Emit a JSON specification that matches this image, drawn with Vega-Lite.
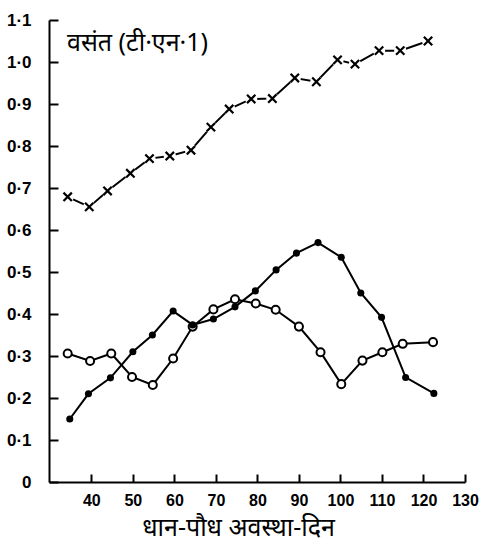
{
  "$schema": "https://vega.github.io/schema/vega-lite/v6.json",
  "width": 416,
  "height": 462,
  "autosize": "none",
  "padding": {"left": 49, "top": 20, "right": 29, "bottom": 65},
  "background": "white",
  "config": {"view": {"stroke": null}, "font": "Liberation Sans"},
  "title": {
    "text": "वसंत (टी·एन·1)",
    "anchor": "start",
    "frame": "group",
    "orient": "top",
    "baseline": "top",
    "offset": 0,
    "dx": 18,
    "dy": 45,
    "fontSize": 25,
    "fontWeight": "normal",
    "font": "Noto Sans",
    "color": "black"
  },
  "datasets": {
    "pts": [
      {"series": "x", "day": 34.3, "value": 0.679},
      {"series": "x", "day": 39.5, "value": 0.655},
      {"series": "x", "day": 43.9, "value": 0.693},
      {"series": "x", "day": 49.4, "value": 0.735},
      {"series": "x", "day": 54.0, "value": 0.77},
      {"series": "x", "day": 58.9, "value": 0.776},
      {"series": "x", "day": 64.0, "value": 0.79},
      {"series": "x", "day": 68.8, "value": 0.845},
      {"series": "x", "day": 73.2, "value": 0.888},
      {"series": "x", "day": 78.5, "value": 0.912},
      {"series": "x", "day": 83.6, "value": 0.913},
      {"series": "x", "day": 89.0, "value": 0.962},
      {"series": "x", "day": 94.2, "value": 0.953},
      {"series": "x", "day": 99.3, "value": 1.005},
      {"series": "x", "day": 103.5, "value": 0.995},
      {"series": "x", "day": 109.3, "value": 1.027},
      {"series": "x", "day": 114.4, "value": 1.027},
      {"series": "x", "day": 121.1, "value": 1.05},
      {"series": "open", "day": 34.3, "value": 0.306},
      {"series": "open", "day": 39.7, "value": 0.288},
      {"series": "open", "day": 44.8, "value": 0.306},
      {"series": "open", "day": 49.8, "value": 0.25},
      {"series": "open", "day": 54.8, "value": 0.231},
      {"series": "open", "day": 59.7, "value": 0.294},
      {"series": "open", "day": 64.4, "value": 0.37},
      {"series": "open", "day": 69.4, "value": 0.411},
      {"series": "open", "day": 74.6, "value": 0.435},
      {"series": "open", "day": 79.6, "value": 0.425},
      {"series": "open", "day": 84.4, "value": 0.41},
      {"series": "open", "day": 90.0, "value": 0.37},
      {"series": "open", "day": 95.2, "value": 0.309},
      {"series": "open", "day": 100.2, "value": 0.233},
      {"series": "open", "day": 105.3, "value": 0.289},
      {"series": "open", "day": 110.1, "value": 0.309},
      {"series": "open", "day": 115.0, "value": 0.329},
      {"series": "open", "day": 122.3, "value": 0.333},
      {"series": "filled", "day": 34.8, "value": 0.15},
      {"series": "filled", "day": 39.3, "value": 0.21},
      {"series": "filled", "day": 44.6, "value": 0.248},
      {"series": "filled", "day": 50.0, "value": 0.31},
      {"series": "filled", "day": 54.7, "value": 0.35},
      {"series": "filled", "day": 59.7, "value": 0.407},
      {"series": "filled", "day": 64.4, "value": 0.374},
      {"series": "filled", "day": 69.4, "value": 0.388},
      {"series": "filled", "day": 74.6, "value": 0.417},
      {"series": "filled", "day": 79.5, "value": 0.455},
      {"series": "filled", "day": 84.5, "value": 0.505},
      {"series": "filled", "day": 89.4, "value": 0.545},
      {"series": "filled", "day": 94.6, "value": 0.57},
      {"series": "filled", "day": 100.2, "value": 0.535},
      {"series": "filled", "day": 104.9, "value": 0.45},
      {"series": "filled", "day": 109.9, "value": 0.392},
      {"series": "filled", "day": 115.7, "value": 0.249},
      {"series": "filled", "day": 122.5, "value": 0.211}
    ]
  },
  "data": {"name": "pts"},
  "encoding": {
    "x": {
      "field": "day",
      "type": "quantitative",
      "scale": {"domain": [29.8, 130], "nice": false, "zero": false},
      "axis": {
        "values": [40, 50, 60, 70, 80, 90, 100, 110, 120, 130],
        "title": "धान-पौध अवस्था-दिन",
        "titleFont": "Noto Sans",
        "titleFontSize": 25,
        "titleFontWeight": "normal",
        "titleColor": "black",
        "titlePadding": 7,
        "titleX": 189,
        "grid": false,
        "ticks": true,
        "tickSize": -8,
        "tickWidth": 2,
        "tickColor": "black",
        "domainColor": "black",
        "domainWidth": 2,
        "labelFlush": false,
        "labelOverlap": false,
        "labelFontSize": 16,
        "labelFontWeight": "bold",
        "labelColor": "black",
        "labelPadding": 18
      }
    },
    "y": {
      "field": "value",
      "type": "quantitative",
      "scale": {"domain": [0, 1.1], "nice": false},
      "axis": {
        "values": [0, 0.1, 0.2, 0.3, 0.4, 0.5, 0.6, 0.7, 0.8, 0.9, 1.0, 1.1],
        "labelExpr": "datum.value == 0 ? '0' : replace(format(datum.value, '.1f'), '.', '·')",
        "title": null,
        "grid": false,
        "ticks": true,
        "tickSize": -9,
        "tickWidth": 2,
        "tickColor": "black",
        "domainColor": "black",
        "domainWidth": 2,
        "labelFlush": false,
        "labelOverlap": false,
        "labelFontSize": 17,
        "labelFontWeight": "bold",
        "labelColor": "black",
        "labelPadding": 27
      }
    }
  },
  "layer": [
    {
      "mark": {"type": "line", "color": "black", "strokeWidth": 2},
      "encoding": {"detail": {"field": "series"}}
    },
    {
      "transform": [{"filter": "datum.series == 'x'"}],
      "mark": {"type": "point", "shape": "circle", "filled": true, "color": "white", "size": 150, "opacity": 1}
    },
    {
      "transform": [{"filter": "datum.series == 'x'"}],
      "mark": {"type": "point", "shape": "M-1,-1L1,1M-1,1L1,-1", "filled": false, "stroke": "black", "strokeWidth": 2.2, "size": 70, "opacity": 1}
    },
    {
      "transform": [{"filter": "datum.series == 'open'"}],
      "mark": {"type": "point", "shape": "circle", "filled": false, "fill": "white", "stroke": "black", "strokeWidth": 2, "size": 65, "opacity": 1}
    },
    {
      "transform": [{"filter": "datum.series == 'filled'"}],
      "mark": {"type": "point", "shape": "circle", "filled": true, "color": "black", "size": 50, "opacity": 1}
    }
  ]
}
